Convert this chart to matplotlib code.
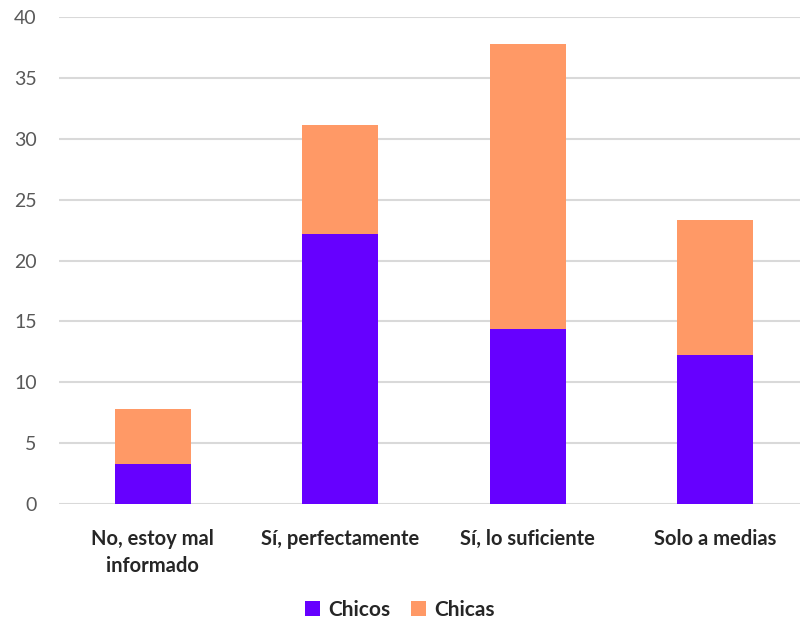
import matplotlib.pyplot as plt
import numpy as np

categorias = ["No, estoy mal\ninformado", "Sí, perfectamente", "Sí, lo suficiente", "Solo a medias"]
chicos = [3.3, 22.2, 14.4, 12.2]
chicas = [4.5, 8.9, 23.4, 11.1]

plt.rcParams['font.family'] = ['Lato', 'DejaVu Sans']

fig = plt.figure(figsize=(8, 6.25), dpi=100)
ax = fig.add_axes([59 / 800, 1 - 504 / 625, 750 / 800, 487 / 625])

x = np.arange(len(categorias))
ax.bar(x, chicos, width=0.405, color="#6600FF", label="Chicos", zorder=3)
ax.bar(x, chicas, width=0.405, bottom=chicos, color="#FF9966", label="Chicas", zorder=3)

ax.set_xlim(-0.5, 3.5)
ax.set_ylim(0, 40)
ax.set_yticks(range(0, 41, 5))
ax.grid(axis="y", color="#D9D9D9", lw=1.5, zorder=0)
for s in ax.spines.values():
    s.set_visible(False)
ax.tick_params(length=0)
ax.tick_params(axis="y", labelsize=14, labelcolor="#595959", pad=16)
ax.set_xticks(x)
ax.set_xticklabels(categorias, fontsize=14.5, fontweight="bold", color="#262626",
                   linespacing=1.45)
ax.tick_params(axis="x", pad=18)

leg = fig.legend(loc="center", bbox_to_anchor=(0.5, 1 - 610 / 625), ncol=2, frameon=False,
                 handlelength=0.7, handleheight=0.7, columnspacing=1.0,
                 handletextpad=0.4, prop={"weight": "bold", "size": 15})
for t in leg.get_texts():
    t.set_color("#262626")

fig.savefig("out.png", dpi=100)
